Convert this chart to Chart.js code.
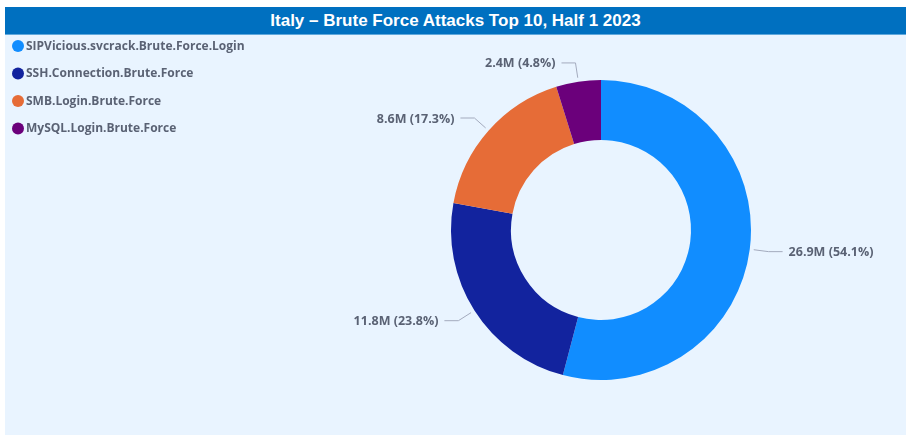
<!DOCTYPE html>
<html>
<head>
<meta charset="utf-8">
<script src="https://cdn.jsdelivr.net/npm/chart.js@4/dist/chart.umd.min.js"></script>
<style>
  html, body { margin: 0; padding: 0; background: #ffffff; width: 908px; height: 435px; overflow: hidden; }
  #title {
    position: absolute; left: 5px; top: 7px; width: 901px; height: 28px;
    background: #0070C0; color: #ffffff;
    font-family: "Liberation Sans Narrow", "Arial Narrow", "Liberation Sans", sans-serif;
    font-weight: bold; font-size: 17px; line-height: 28px; text-align: center;
    box-shadow: inset 0 -1px 0 #5FA8DC;
  }
  #panel { position: absolute; left: 5px; top: 35px; width: 901px; height: 400px; background: #E9F4FF; }
  #panel canvas { position: absolute; left: 0; top: 0; }
</style>
</head>
<body>
<div id="title">Italy – Brute Force Attacks Top 10, Half 1 2023</div>
<div id="panel"><canvas id="c" width="901" height="400"></canvas></div>
<script>
// Data (values in millions)
const categories = [
  "SIPVicious.svcrack.Brute.Force.Login",
  "SSH.Connection.Brute.Force",
  "SMB.Login.Brute.Force",
  "MySQL.Login.Brute.Force"
];
const attackValues = [26.92, 11.84, 8.61, 2.40];
const sliceColors = ["#118DFF", "#12239E", "#E66C37", "#6B007B"];

const TEXT_COLOR = "#5A6274";
const LEGEND_FONT = 'bold 12px "Open Sans", "Noto Sans", sans-serif';
const LABEL_FONT = 'bold 12.5px "Open Sans", "Noto Sans", sans-serif';

const legendPlugin = {
  id: "leftLegend",
  afterDraw(chart) {
    const ctx = chart.ctx;
    const labels = chart.data.labels;
    const colors = chart.data.datasets[0].backgroundColor;
    ctx.save();
    ctx.font = LEGEND_FONT;
    ctx.textBaseline = "middle";
    ctx.textAlign = "left";
    labels.forEach((lab, i) => {
      const y = 11 + i * 27.5;
      ctx.beginPath();
      ctx.arc(13, y, 6, 0, Math.PI * 2);
      ctx.fillStyle = colors[i];
      ctx.fill();
      ctx.fillStyle = TEXT_COLOR;
      ctx.fillText(lab, 21, y + 0.5);
    });
    ctx.restore();
  }
};

const sliceLabelPlugin = {
  id: "sliceLabels",
  afterDatasetsDraw(chart) {
    const ctx = chart.ctx;
    const meta = chart.getDatasetMeta(0);
    const data = chart.data.datasets[0].data;
    const total = data.reduce((a, b) => a + b, 0);
    ctx.save();
    ctx.font = LABEL_FONT;
    ctx.textBaseline = "middle";
    meta.data.forEach((arc, i) => {
      const p = arc.getProps(["x", "y", "startAngle", "endAngle", "outerRadius"], true);
      const mid = (p.startAngle + p.endAngle) / 2;
      const c = Math.cos(mid), s = Math.sin(mid);
      const x0 = p.x + c * (p.outerRadius + 4), y0 = p.y + s * (p.outerRadius + 4);
      const x1 = p.x + c * (p.outerRadius + 19), y1 = p.y + s * (p.outerRadius + 19);
      const dir = c >= 0 ? 1 : -1;
      const x2 = x1 + dir * 14;
      ctx.beginPath();
      ctx.moveTo(x0, y0);
      ctx.lineTo(x1, y1);
      ctx.lineTo(x2, y1);
      ctx.strokeStyle = "#A3AABD";
      ctx.lineWidth = 1;
      ctx.stroke();
      const pct = (data[i] / total * 100).toFixed(1);
      const txt = data[i].toFixed(1) + "M (" + pct + "%)";
      ctx.fillStyle = TEXT_COLOR;
      ctx.textAlign = dir > 0 ? "left" : "right";
      ctx.fillText(txt, x2 + dir * 6, y1 + 1);
    });
    ctx.restore();
  }
};

new Chart(document.getElementById("c"), {
  type: "doughnut",
  data: {
    labels: categories,
    datasets: [{
      data: attackValues,
      backgroundColor: sliceColors,
      borderWidth: 0,
      hoverOffset: 0
    }]
  },
  options: {
    responsive: false,
    animation: false,
    cutout: "60%",
    layout: { padding: { left: 446, right: 155, top: 45, bottom: 55 } },
    plugins: {
      legend: { display: false },
      tooltip: { enabled: false }
    }
  },
  plugins: [sliceLabelPlugin, legendPlugin]
});
</script>
</body>
</html>
